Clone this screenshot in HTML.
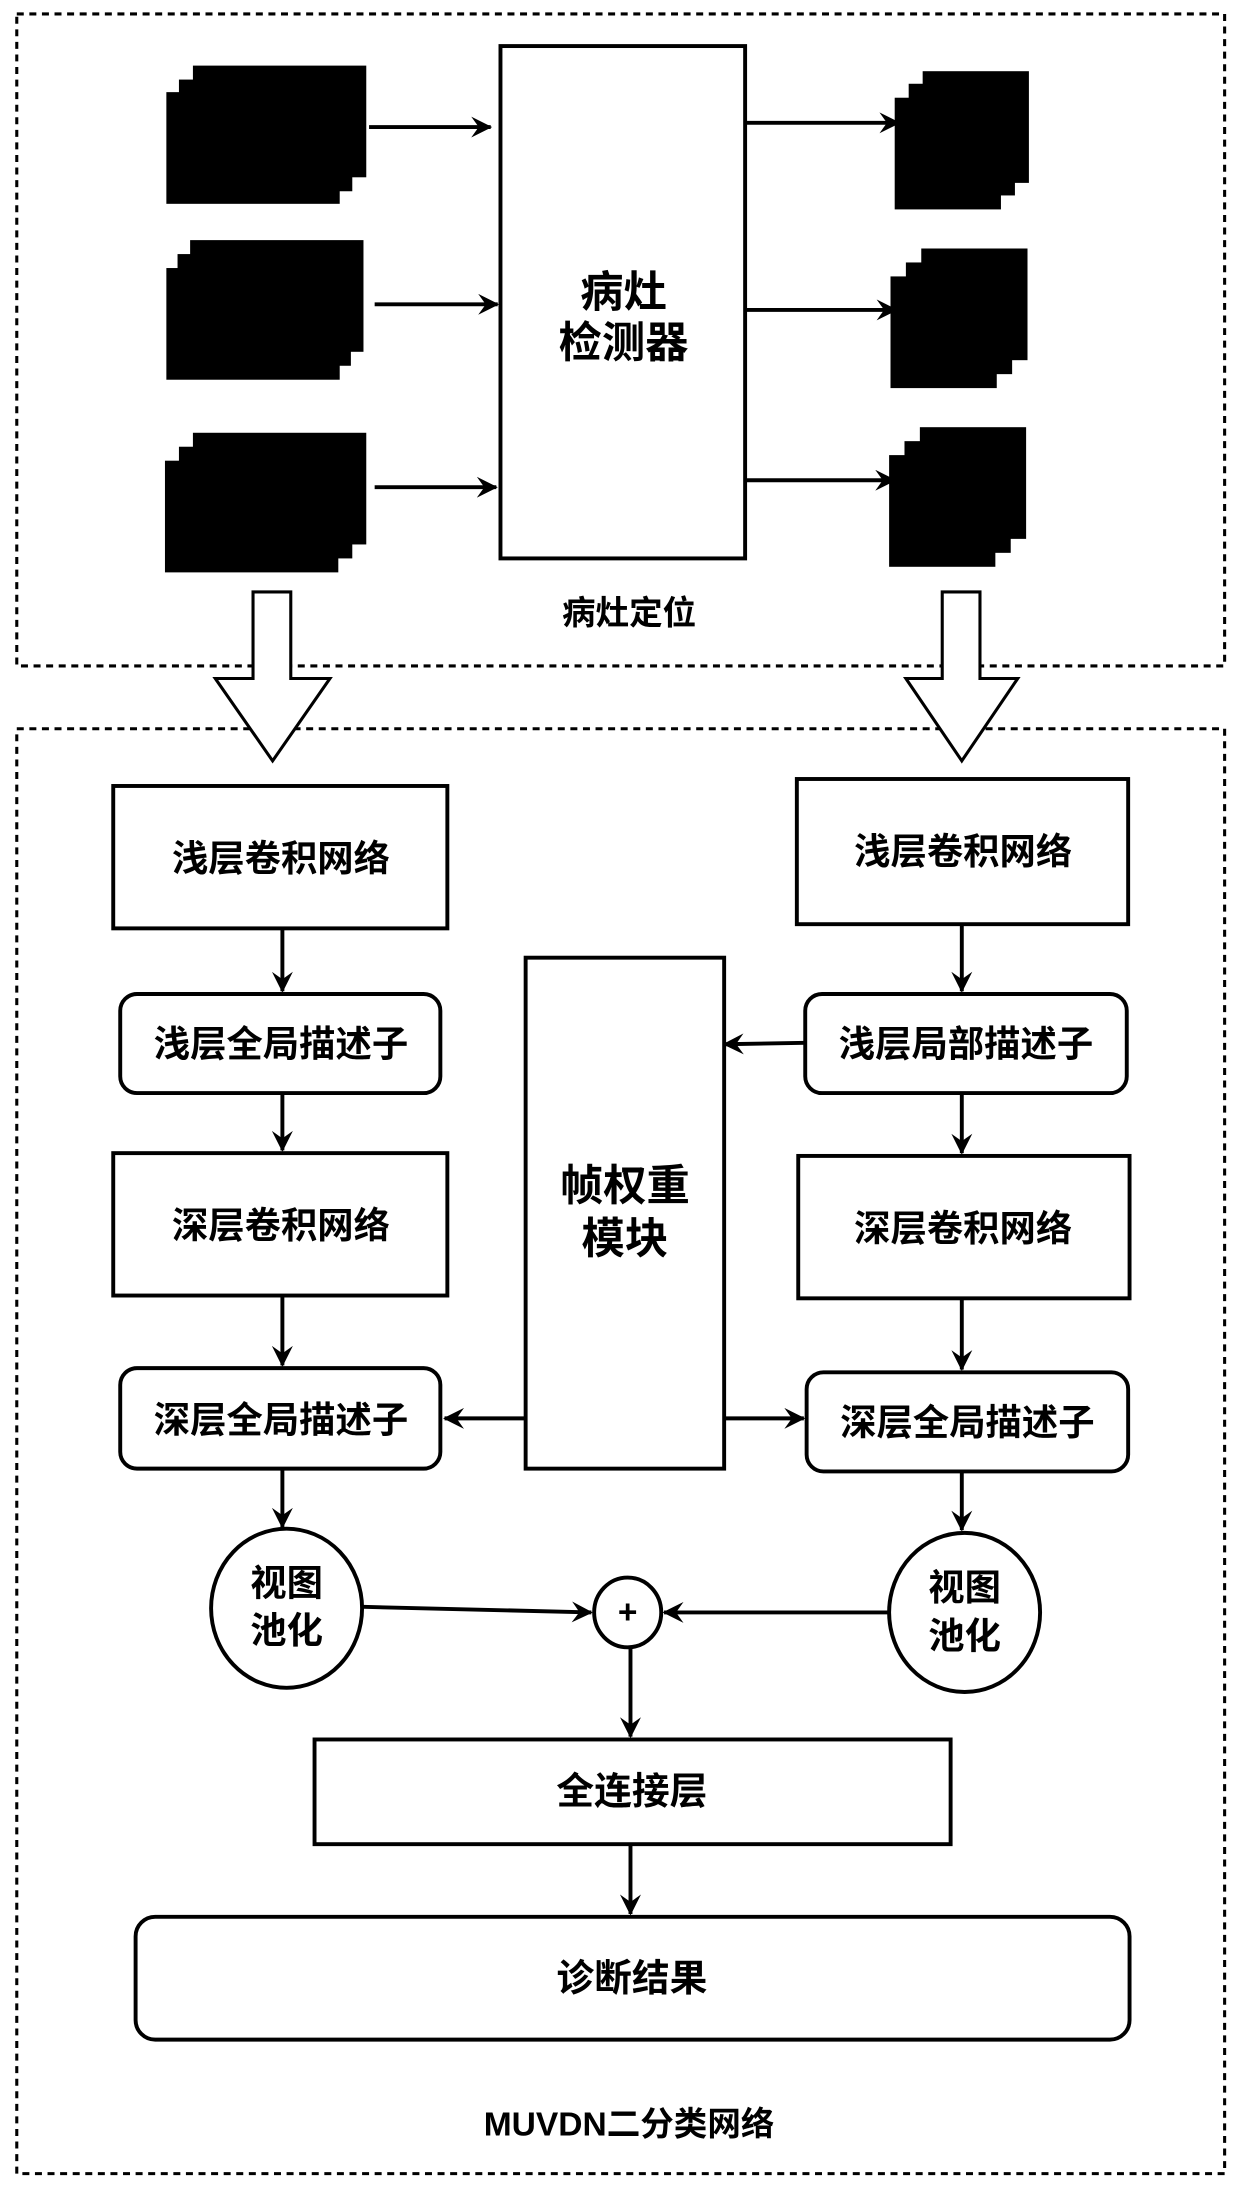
<!DOCTYPE html>
<html><head><meta charset="utf-8"><style>
html,body{margin:0;padding:0;background:#fff}
svg{display:block}
text{font-family:"Liberation Sans","Noto Sans CJK SC",sans-serif;font-weight:bold;fill:#000;text-anchor:middle;dominant-baseline:central}
</style></head><body>
<svg width="1240" height="2189" viewBox="0 0 887 1568" preserveAspectRatio="none" xmlns="http://www.w3.org/2000/svg">
<defs>
<marker id="a" viewBox="0 0 14 14" refX="13" refY="7" markerWidth="15" markerHeight="15" markerUnits="userSpaceOnUse" orient="auto">
<path d="M0,0 L14,7 L0,14 L5,7 Z" fill="#000"/></marker>
</defs>
<g fill="none" stroke="#000" stroke-width="2.2" stroke-dasharray="5,4">
<rect x="12" y="10" width="864" height="467"/>
<rect x="12" y="522" width="864" height="1035"/>
</g>
<g fill="#000">
<rect x="138" y="47" width="124" height="80"/><rect x="128" y="57" width="124" height="80"/><rect x="119" y="66" width="124" height="80"/>
<rect x="136" y="172" width="124" height="80"/><rect x="127" y="182" width="124" height="80"/><rect x="119" y="192" width="124" height="80"/>
<rect x="138" y="310" width="124" height="80"/><rect x="128" y="320" width="124" height="80"/><rect x="118" y="330" width="124" height="80"/>
<rect x="660" y="51" width="76" height="80"/><rect x="650" y="60" width="76" height="80"/><rect x="640" y="70" width="76" height="80"/>
<rect x="659" y="178" width="76" height="80"/><rect x="648" y="188" width="76" height="80"/><rect x="637" y="198" width="76" height="80"/>
<rect x="658" y="306" width="76" height="80"/><rect x="647" y="316" width="76" height="80"/><rect x="636" y="326" width="76" height="80"/>
</g>
<g stroke="#000" stroke-width="2.8" fill="none">
<rect x="358" y="33" width="175" height="367" fill="#fff"/>
<line x1="264" y1="91" x2="351" y2="91" marker-end="url(#a)"/>
<line x1="268" y1="218" x2="356" y2="218" marker-end="url(#a)"/>
<line x1="268" y1="349" x2="355" y2="349" marker-end="url(#a)"/>
<line x1="534" y1="88" x2="643" y2="88" marker-end="url(#a)"/>
<line x1="534" y1="222" x2="641" y2="222" marker-end="url(#a)"/>
<line x1="534" y1="344" x2="640" y2="344" marker-end="url(#a)"/>
</g>
<text x="446" y="210" style="font-size:31px">病灶</text>
<text x="446" y="246" style="font-size:31px">检测器</text>
<text x="450" y="440" style="font-size:24px">病灶定位</text>
<g fill="#fff" stroke="#000" stroke-width="2.2">
<path d="M181,424 L208,424 L208,486 L236,486 L195,545 L154,486 L181,486 Z"/>
<path d="M674,424 L701,424 L701,486 L728,486 L688,545 L648,486 L674,486 Z"/>
</g>
<g fill="#fff" stroke="#000" stroke-width="2.8">
<rect x="81" y="563" width="239" height="102"/>
<rect x="86" y="712" width="229" height="71" rx="12"/>
<rect x="81" y="826" width="239" height="102"/>
<rect x="86" y="980" width="229" height="72" rx="12"/>
<rect x="570" y="558" width="237" height="104"/>
<rect x="576" y="712" width="230" height="71" rx="12"/>
<rect x="571" y="828" width="237" height="102"/>
<rect x="577" y="983" width="230" height="71" rx="12"/>
<rect x="376" y="686" width="142" height="366"/>
<ellipse cx="205" cy="1152" rx="54" ry="57"/>
<ellipse cx="690" cy="1155" rx="54" ry="57"/>
<ellipse cx="449" cy="1155" rx="24" ry="25"/>
<rect x="225" y="1246" width="455" height="75"/>
<rect x="97" y="1373" width="711" height="88" rx="14"/>
</g>
<g stroke="#000" stroke-width="2.8" fill="none">
<line x1="202" y1="665" x2="202" y2="710" marker-end="url(#a)"/>
<line x1="202" y1="783" x2="202" y2="824" marker-end="url(#a)"/>
<line x1="202" y1="928" x2="202" y2="978" marker-end="url(#a)"/>
<line x1="202" y1="1052" x2="202" y2="1094" marker-end="url(#a)"/>
<line x1="688" y1="662" x2="688" y2="710" marker-end="url(#a)"/>
<line x1="688" y1="783" x2="688" y2="826" marker-end="url(#a)"/>
<line x1="688" y1="930" x2="688" y2="981" marker-end="url(#a)"/>
<line x1="688" y1="1054" x2="688" y2="1096" marker-end="url(#a)"/>
<line x1="576" y1="747" x2="518" y2="748" marker-end="url(#a)"/>
<line x1="376" y1="1016" x2="318" y2="1016" marker-end="url(#a)"/>
<line x1="518" y1="1016" x2="575" y2="1016" marker-end="url(#a)"/>
<line x1="260" y1="1151" x2="423" y2="1155" marker-end="url(#a)"/>
<line x1="636" y1="1155" x2="475" y2="1155" marker-end="url(#a)"/>
<line x1="451" y1="1180" x2="451" y2="1244" marker-end="url(#a)"/>
<line x1="451" y1="1321" x2="451" y2="1371" marker-end="url(#a)"/>
</g>
<text x="201" y="615" style="font-size:26px">浅层卷积网络</text>
<text x="201" y="748" style="font-size:26px">浅层全局描述子</text>
<text x="201" y="878" style="font-size:26px">深层卷积网络</text>
<text x="201" y="1017" style="font-size:26px">深层全局描述子</text>
<text x="689" y="610" style="font-size:26px">浅层卷积网络</text>
<text x="691" y="748" style="font-size:26px">浅层局部描述子</text>
<text x="689" y="880" style="font-size:26px">深层卷积网络</text>
<text x="692" y="1019" style="font-size:26px">深层全局描述子</text>
<text x="447" y="850" style="font-size:31px">帧权重</text>
<text x="447" y="888" style="font-size:31px">模块</text>
<text x="205" y="1134" style="font-size:26px">视图</text>
<text x="205" y="1168" style="font-size:26px">池化</text>
<text x="690" y="1137" style="font-size:26px">视图</text>
<text x="690" y="1172" style="font-size:26px">池化</text>
<text x="449" y="1155" style="font-size:24px">+</text>
<text x="452" y="1283" style="font-size:27px">全连接层</text>
<text x="452" y="1417" style="font-size:27px">诊断结果</text>
<text x="450" y="1522" style="font-size:24px">MUVDN二分类网络</text>
</svg>
</body></html>
